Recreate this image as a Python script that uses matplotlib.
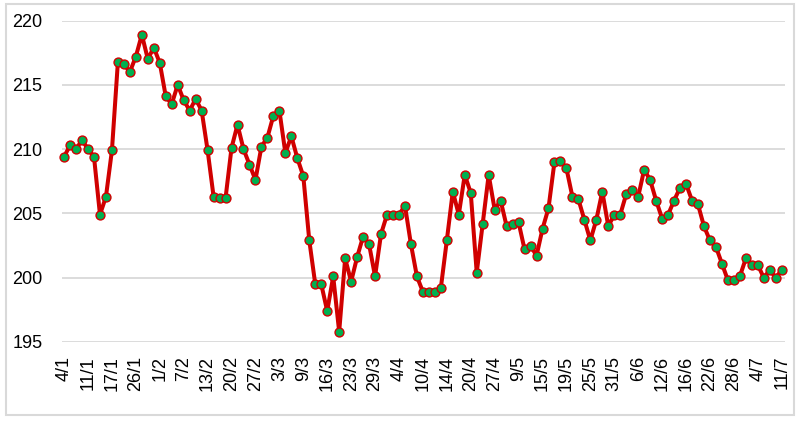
import numpy as np
import matplotlib.pyplot as plt
from matplotlib.patches import Rectangle

plt.rcParams['font.family'] = ['Liberation Sans', 'DejaVu Sans']

# values, one per trading day
prices = [
    209.4, 210.3, 210.0, 210.7, 210.0, 209.4, 204.9, 206.3, 209.9, 216.8,
    216.6, 216.0, 217.2, 218.9, 217.0, 217.9, 216.7, 214.1, 213.5, 215.0,
    213.8, 213.0, 213.9, 213.0, 209.9, 206.3, 206.2, 206.2, 210.1, 211.9,
    210.0, 208.8, 207.6, 210.2, 210.9, 212.6, 213.0, 209.7, 211.0, 209.3,
    207.9, 202.9, 199.5, 199.5, 197.4, 200.1, 195.8, 201.5, 199.7, 201.6,
    203.2, 202.6, 200.1, 203.4, 204.9, 204.9, 204.9, 205.6, 202.6, 200.1,
    198.9, 198.9, 198.9, 199.2, 202.9, 206.7, 204.9, 208.0, 206.6, 200.4,
    204.2, 208.0, 205.3, 206.0, 204.0, 204.2, 204.3, 202.2, 202.5, 201.7,
    203.8, 205.4, 209.0, 209.1, 208.5, 206.3, 206.1, 204.5, 202.9, 204.5,
    206.7, 204.0, 204.9, 204.9, 206.5, 206.8, 206.3, 208.4, 207.6, 206.0,
    204.6, 204.9, 206.0, 207.0, 207.3, 206.0, 205.7, 204.0, 202.9, 202.4,
    201.1, 199.8, 199.8, 200.1, 201.5, 201.0, 201.0, 200.0, 200.6, 200.0,
    200.6,
]

# every 4th date is labelled on the axis
tick_labels = [
    "4/1", "11/1", "17/1", "26/1", "1/2", "7/2", "13/2", "20/2", "27/2", "3/3",
    "9/3", "16/3", "23/3", "29/3", "4/4", "10/4", "14/4", "20/4", "27/4", "9/5",
    "15/5", "19/5", "25/5", "31/5", "6/6", "12/6", "16/6", "22/6", "28/6", "4/7",
    "11/7",
]
y_ticks = [195, 200, 205, 210, 215, 220]

W, H = 798, 422
fig = plt.figure(figsize=(W / 100, H / 100), dpi=100)
ax = fig.add_axes([62 / W, 1 - 342 / H, (785 - 62) / W, (342 - 20.5) / H])

x = np.arange(len(prices))
ax.plot(x, prices, color='#D00000', linewidth=2.9, marker='o', markersize=6.4,
        markerfacecolor='#00B050', markeredgecolor='#D00000', markeredgewidth=1.0,
        zorder=3, clip_on=False)

ax.set_xlim(-0.35, len(prices) - 0.45)
ax.set_ylim(195, 220)
ax.set_yticks(y_ticks)
ax.set_xticks(np.arange(0, len(prices), 4))
ax.set_xticklabels(tick_labels, rotation=90)
ax.tick_params(axis='x', length=0, pad=10, labelsize=13)
ax.tick_params(axis='y', length=0, pad=14, labelsize=13)
ax.yaxis.grid(True, color='#D9D9D9', linewidth=1.3)
ax.set_axisbelow(True)
for s in ax.spines.values():
    s.set_visible(False)

# light border round the whole chart
fig.patches.append(Rectangle((6 / W, 1 - 415 / H), 788 / W, 411 / H,
                             transform=fig.transFigure, fill=False,
                             edgecolor='#D9D9D9', linewidth=1.5))

fig.savefig("out.png", dpi=100)
